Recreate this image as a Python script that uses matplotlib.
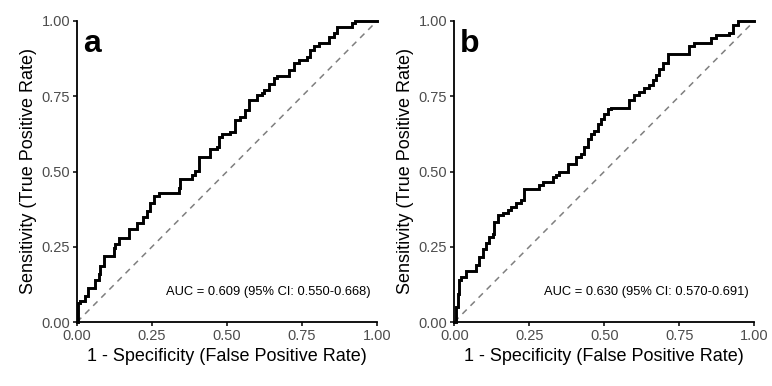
import matplotlib
matplotlib.use("Agg")
import matplotlib.pyplot as plt

plt.rcParams['font.family'] = ['Liberation Sans', 'DejaVu Sans']

# Panel a ROC vertices (FPR, TPR)
fpr_a = [0.0, 0.002, 0.011, 0.025, 0.036, 0.061, 0.072, 0.078, 0.089, 0.117, 0.122,
         0.128, 0.139, 0.172, 0.2, 0.22, 0.233, 0.244, 0.256, 0.272, 0.333, 0.339,
         0.344, 0.378, 0.383, 0.394, 0.406, 0.439, 0.444, 0.467, 0.472, 0.483, 0.511,
         0.528, 0.544, 0.561, 0.572, 0.589, 0.6, 0.617, 0.622, 0.639, 0.656, 0.667,
         0.694, 0.706, 0.722, 0.739, 0.767, 0.778, 0.789, 0.806, 0.828, 0.839, 0.856,
         0.867, 0.9, 0.917, 0.928, 1.0]
tpr_a = [0.0, 0.063, 0.07, 0.085, 0.114, 0.14, 0.16, 0.185, 0.22, 0.22, 0.245,
         0.26, 0.28, 0.31, 0.33, 0.35, 0.37, 0.395, 0.417, 0.428, 0.428, 0.445,
         0.476, 0.476, 0.487, 0.503, 0.548, 0.548, 0.576, 0.581, 0.614, 0.626, 0.63,
         0.67, 0.68, 0.703, 0.737, 0.737, 0.753, 0.76, 0.772, 0.792, 0.809, 0.817,
         0.817, 0.837, 0.859, 0.872, 0.881, 0.903, 0.918, 0.926, 0.926, 0.948, 0.959,
         0.979, 0.981, 0.992, 1.0, 1.0]

# Panel b ROC vertices (FPR, TPR)
fpr_b = [0.0, 0.006, 0.011, 0.017, 0.022, 0.033, 0.039, 0.067, 0.072, 0.083, 0.094,
         0.106, 0.117, 0.128, 0.133, 0.144, 0.161, 0.178, 0.189, 0.206, 0.222, 0.233,
         0.278, 0.283, 0.294, 0.317, 0.328, 0.339, 0.35, 0.378, 0.394, 0.406, 0.422,
         0.433, 0.444, 0.456, 0.467, 0.478, 0.489, 0.5, 0.511, 0.522, 0.572, 0.583,
         0.6, 0.617, 0.633, 0.65, 0.661, 0.672, 0.683, 0.694, 0.711, 0.772, 0.783,
         0.8, 0.844, 0.856, 0.872, 0.917, 0.928, 0.944, 1.0]
tpr_b = [0.0, 0.05, 0.094, 0.139, 0.148, 0.148, 0.17, 0.17, 0.189, 0.217, 0.244,
         0.261, 0.283, 0.294, 0.333, 0.356, 0.361, 0.372, 0.383, 0.394, 0.406, 0.442,
         0.442, 0.456, 0.464, 0.464, 0.481, 0.487, 0.498, 0.526, 0.526, 0.548, 0.559,
         0.581, 0.609, 0.626, 0.633, 0.659, 0.676, 0.692, 0.709, 0.712, 0.712, 0.737,
         0.753, 0.764, 0.776, 0.787, 0.803, 0.82, 0.842, 0.859, 0.889, 0.889, 0.918,
         0.928, 0.928, 0.942, 0.953, 0.959, 0.987, 1.0, 1.0]

panel_labels = ["a", "b"]
auc_texts = ["AUC = 0.609 (95% CI: 0.550-0.668)", "AUC = 0.630 (95% CI: 0.570-0.691)"]
ticks = [0.0, 0.25, 0.5, 0.75, 1.0]
tick_labels = ["0.00", "0.25", "0.50", "0.75", "1.00"]

fig = plt.figure(figsize=(7.72, 3.86), dpi=100)
W, H = 772, 386
boxes = [(77, 21, 300, 301), (454.3, 21, 300, 301)]
data = [(fpr_a, tpr_a), (fpr_b, tpr_b)]

for (l, t, w, h), (fx, ty), lab, auc in zip(boxes, data, panel_labels, auc_texts):
    ax = fig.add_axes([l / W, 1 - (t + h) / H, w / W, h / H])
    ax.plot([0, 1], [0, 1], color='#7f7f7f', lw=1.1, ls=(0, (4, 3.5)), zorder=1)
    ax.plot(fx, ty, color='black', lw=2.1, drawstyle='steps-post', zorder=2,
            solid_joinstyle='miter', clip_on=False)
    ax.set_xlim(0, 1)
    ax.set_ylim(0, 1)
    ax.set_xticks(ticks)
    ax.set_xticklabels(tick_labels)
    ax.set_yticks(ticks)
    ax.set_yticklabels(tick_labels)
    for s in ['top', 'right']:
        ax.spines[s].set_visible(False)
    for s in ['left', 'bottom']:
        ax.spines[s].set_linewidth(1.3)
        ax.spines[s].set_color('black')
    ax.tick_params(axis='both', length=3, width=1.1, color='black',
                   labelcolor='#4d4d4d', labelsize=10.5, pad=2)
    ax.set_xlabel("1 - Specificity (False Positive Rate)", fontsize=13, labelpad=3.5)
    ax.set_ylabel("Sensitivity (True Positive Rate)", fontsize=13, labelpad=3)
    ax.text(0.02, 0.897, lab, fontsize=23, fontweight='bold', ha='left', va='baseline',
            transform=ax.transAxes)
    ax.text(0.98, 0.1, auc, fontsize=9.3, ha='right', va='center')

fig.savefig("out.png", dpi=100)
